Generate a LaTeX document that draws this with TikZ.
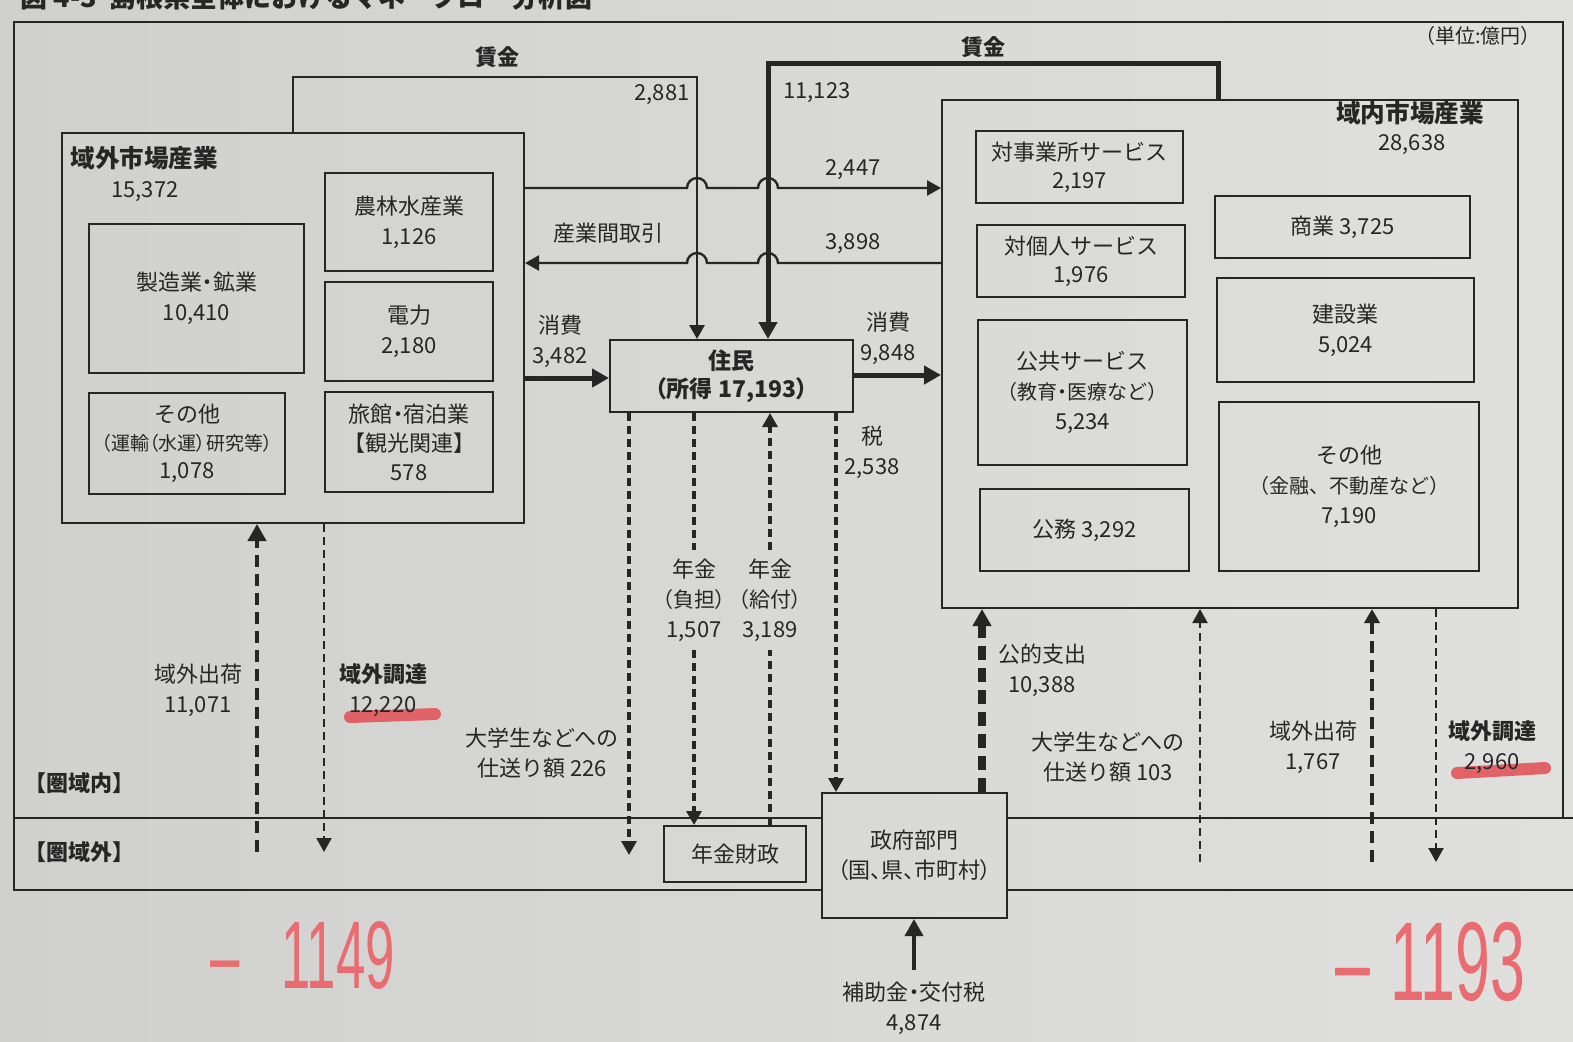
\documentclass[tikz,border=0pt]{standalone}
\usepackage{fontspec}
\setmainfont{Noto Sans CJK JP}
\newfontfamily\pfont{Noto Sans CJK JP}[RawFeature=+palt]
\newfontfamily\handfont{Liberation Sans}
\usetikzlibrary{arrows.meta}
\definecolor{paperL}{RGB}{208,209,206}
\definecolor{paperR}{RGB}{224,224,222}
\definecolor{ink}{RGB}{38,38,38}
\definecolor{redpen}{RGB}{226,78,84}
\definecolor{redhand}{RGB}{232,108,112}
\tikzset{
  box/.style={draw=ink, line width=1pt, inner sep=0pt, align=center, text=ink, font=\fontsize{11}{15}\selectfont},
  lbl/.style={align=center, inner sep=1pt, text=ink, font=\fontsize{11}{15}\selectfont},
  boldlbl/.style={lbl, font=\fontsize{11}{15}\selectfont\bfseries},
  arr/.style={-{Triangle[length=7pt,width=7.5pt]}},
  bigarr/.style={-{Triangle[length=8.5pt,width=9pt]}},
  thinln/.style={draw=ink, line width=1.2pt},
  thickln/.style={draw=ink, line width=2.5pt},
  mdash/.style={draw=ink, line width=1.6pt, dash pattern=on 4pt off 2.5pt},
  tdash/.style={draw=ink, line width=1.1pt, dash pattern=on 4pt off 2.5pt},
  kdash/.style={draw=ink, line width=2.4pt, dash pattern=on 6pt off 3.5pt},
  kkdash/.style={draw=ink, line width=3.6pt, dash pattern=on 7pt off 4pt},
  framelin/.style={draw=ink, line width=1pt},
  marker/.style={draw=redpen, line width=6pt, line cap=round, opacity=0.85},
  hand/.style={text=redhand, inner sep=0pt}
}
\begin{document}
\begin{tikzpicture}[x=0.5pt,y=-0.5pt]
\useasboundingbox (0,0) rectangle (1573,1041);
\clip (0,0) rectangle (1573,1041);
\shade[left color=paperL, right color=paperR] (0,0) rectangle (1573,1041);

% red marker underlines
\draw[marker] (350,717) -- (435,714);
\draw[marker] (1457,773) -- (1545,768);

% title (cut off at the top)
\node[anchor=base west, inner sep=0pt, text=ink, font=\fontsize{13.5}{16}\selectfont\bfseries] (title) at (20,7) {図 4-3\ \ 島根県全体におけるマネーフロー分析図};

% boxes: 域外市場産業
\node[box, minimum width=231pt, minimum height=195pt] (outL) at (293,328) {};
\node[lbl, anchor=west, font=\fontsize{12.3}{15}\selectfont\bfseries] (outLt) at (68,158) {域外市場産業};
\node[lbl] (outLn) at (145,192) {15,372};
\node[box, minimum width=107.5pt, minimum height=74.5pt] (seizo) at (196.5,298.5) {{\pfont 製造業・鉱業}\\10,410};
\node[box, minimum width=98pt, minimum height=50.5pt, font=\fontsize{11}{14}\selectfont] (sonotaL) at (187,443.5) {その他\\{\pfont\fontsize{9.5}{14}\selectfont （運輸（水運）研究等）}\\1,078};
\node[box, minimum width=84pt, minimum height=49pt] (nourin) at (409,222) {農林水産業\\1,126};
\node[box, minimum width=84pt, minimum height=49.5pt] (denryoku) at (409,331.5) {電力\\2,180};
\node[box, minimum width=84pt, minimum height=50pt, font=\fontsize{11}{14.5}\selectfont] (ryokan) at (409,442) {{\pfont 旅館・宿泊業}\\【観光関連】\\578};

% boxes: 域内市場産業
\node[box, minimum width=288pt, minimum height=254pt] (inR) at (1230,354) {};
\node[lbl, font=\fontsize{12.3}{15}\selectfont\bfseries] (inRt) at (1410,113) {域内市場産業};
\node[lbl] (inRn) at (1412,145) {28,638};
\node[box, minimum width=103.5pt, minimum height=36pt, font=\fontsize{11}{14}\selectfont] (taijigyo) at (1079.5,167) {対事業所サービス\\2,197};
\node[box, minimum width=104pt, minimum height=36pt, font=\fontsize{11}{14}\selectfont] (taikojin) at (1081,261) {対個人サービス\\1,976};
\node[box, minimum width=104.5pt, minimum height=72.5pt] (kokyo) at (1082.5,392.5) {公共サービス\\{\fontsize{10}{15}\selectfont （教育{\pfont ・}医療など）}\\5,234};
\node[box, minimum width=104.5pt, minimum height=41pt] (koumu) at (1084.5,530) {公務 3,292};
\node[box, minimum width=127.5pt, minimum height=31pt] (shogyo) at (1342.5,227) {商業 3,725};
\node[box, minimum width=128.5pt, minimum height=52pt] (kensetsu) at (1345.5,330) {建設業\\5,024};
\node[box, minimum width=130pt, minimum height=84.5pt] (sonotaR) at (1349,486.5) {その他\\{\fontsize{10}{15}\selectfont （金融、不動産など）}\\7,190};

% central boxes
\node[box, minimum width=121.5pt, minimum height=36pt, font=\fontsize{11.5}{14}\selectfont\bfseries] (jumin) at (731.5,376) {住民\\{\pfont （所得 17,193）}};
\node[box, minimum width=71pt, minimum height=28pt] (nenkin) at (735,854) {年金財政};
\node[box, minimum width=92.5pt, minimum height=62.5pt] (seifu) at (914.5,855.5) {政府部門\\{\pfont （国、県、市町村）}};

% labels
\node[boldlbl] (chinginL) at (497,57) {賃金};
\node[boldlbl] (chinginR) at (983,47) {賃金};
\node[lbl] (n2881) at (662,95) {2,881};
\node[lbl] (n11123) at (817,93) {11,123};
\node[lbl] (n2447) at (853,170) {2,447};
\node[lbl] (sangyo) at (608,233) {産業間取引};
\node[lbl] (n3898) at (853,244) {3,898};
\node[lbl] (sh1) at (560,341) {消費\\3,482};
\node[lbl] (sh2) at (888,338) {消費\\9,848};
\node[lbl] (zei) at (872,452) {税\\2,538};
\node[lbl, inner ysep=4pt, inner xsep=0pt] (nen1) at (694,600) {年金\\{\pfont\fontsize{10.5}{15}\selectfont （負担）}\\1,507};
\node[lbl, inner ysep=4pt, inner xsep=0pt] (nen2) at (770,600) {年金\\{\pfont\fontsize{10.5}{15}\selectfont （給付）}\\3,189};
\node[lbl] (shiokuri1) at (542,753) {大学生などへの\\仕送り額 226};
\node[lbl] (shukkaL) at (198,690) {域外出荷\\11,071};
\node[lbl] (chotatsuL) at (383,690) {\textbf{域外調達}\\12,220};
\node[lbl] (kouteki) at (1042,670) {公的支出\\10,388};
\node[lbl] (shiokuri2) at (1108,757) {大学生などへの\\仕送り額 103};
\node[lbl] (shukkaR) at (1313,747) {域外出荷\\1,767};
\node[lbl] (chotatsuR) at (1492,747) {\textbf{域外調達}\\2,960};
\node[lbl, anchor=west, font=\fontsize{11}{12}\selectfont\bfseries] (kennai) at (22,783) {【圏域内】};
\node[lbl, anchor=west, font=\fontsize{11}{12}\selectfont\bfseries] (kengai) at (22,852) {【圏域外】};
\node[lbl] (hojo) at (914,1008) {{\pfont 補助金・交付税}\\4,874};
\node[lbl, font=\fontsize{10}{12}\selectfont] (tani) at (1478,36) {（単位:億円）};

% handwritten red notes
\node[hand, anchor=base west, font=\handfont\fontsize{48}{48}\selectfont, xscale=0.55] (r1) at (210,988) {–\hspace{38pt}1149};
\node[hand, anchor=base west, font=\handfont\fontsize{56}{56}\selectfont, xscale=0.56] (r2) at (1335,1000) {–\hspace{18pt}1193};

% outer frame and region dividers
\coordinate (fTL) at (14,22);
\coordinate (fTR) at (1563,22);
\coordinate (fDR) at (1563,818);
\coordinate (dL) at (14,818);
\coordinate (dR) at (1573,818);
\coordinate (bL) at (14,890);
\coordinate (bR) at (1573,890);
\draw[framelin] (fDR) -- (fTR) -- (fTL) -- (bL) -- (seifu.west |- bL);
\draw[framelin] (seifu.east |- bR) -- (bR);
\draw[framelin] (dL) -- (seifu.west |- dL);
\draw[framelin] (seifu.east |- dR) -- (dR);

% wages
\coordinate (wa) at (293,77);
\coordinate (wb) at (697,77);
\draw[thinln, line width=1.4pt, arr] (outL.north -| wa) -- (wa) -- (wb) -- (jumin.north -| wb);
\coordinate (wc) at (1218,63);
\coordinate (wd) at (768,63);
\draw[thickln, bigarr] (inR.north -| wc) -- (wc) -- (wd) -- (jumin.north -| wd);

% inter-industry trade with hop-overs
\coordinate (h1) at (0,188);
\draw[thinln, arr] (outL.east |- h1) -- (687,188) arc[start angle=180, end angle=360, radius=10] -- (758,188) arc[start angle=180, end angle=360, radius=10] -- (inR.west |- h1);
\coordinate (h2) at (0,263);
\draw[thinln, arr] (inR.west |- h2) -- (778,263) arc[start angle=0, end angle=-180, radius=10] -- (707,263) arc[start angle=0, end angle=-180, radius=10] -- (outL.east |- h2);

% consumption
\coordinate (c1) at (0,378);
\draw[thickln, bigarr] (outL.east |- c1) -- (jumin.west |- c1);
\coordinate (c2) at (0,375);
\draw[thickln, bigarr] (jumin.east |- c2) -- (inR.west |- c2);

% flows below residents
\coordinate (d1) at (629,855);
\draw[mdash, arr] (jumin.south -| d1) -- (d1);
\coordinate (d2) at (694,0);
\draw[mdash] (jumin.south -| d2) -- (nen1.north);
\draw[mdash, arr] (nen1.south) -- (nenkin.north -| d2);
\coordinate (d3) at (770,0);
\draw[mdash] (nenkin.north -| d3) -- (nen2.south);
\draw[mdash, arr] (nen2.north) -- (jumin.south -| d3);
\coordinate (d4) at (836,0);
\draw[mdash, arr] (jumin.south -| d4) -- (seifu.north -| d4);

% subsidies
\coordinate (hj) at (914,970);
\draw[thinln, line width=1.8pt, bigarr] (hj) -- (seifu.south -| hj);

% flows to/from the regional market industries
\coordinate (k1) at (982,0);
\draw[kkdash, bigarr] (seifu.north -| k1) -- (inR.south -| k1);
\coordinate (k2) at (1200,862);
\draw[tdash, arr] (k2) -- (inR.south -| k2);
\coordinate (k3) at (1372,862);
\draw[kdash, arr] (k3) -- (inR.south -| k3);
\coordinate (k4) at (1436,862);
\draw[tdash, arr] (inR.south -| k4) -- (k4);

% flows to/from the external market industries
\coordinate (k5) at (257,852);
\draw[kdash, bigarr] (k5) -- (outL.south -| k5);
\coordinate (k6) at (324,852);
\draw[tdash, arr] (outL.south -| k6) -- (k6);
\end{tikzpicture}
\end{document}
